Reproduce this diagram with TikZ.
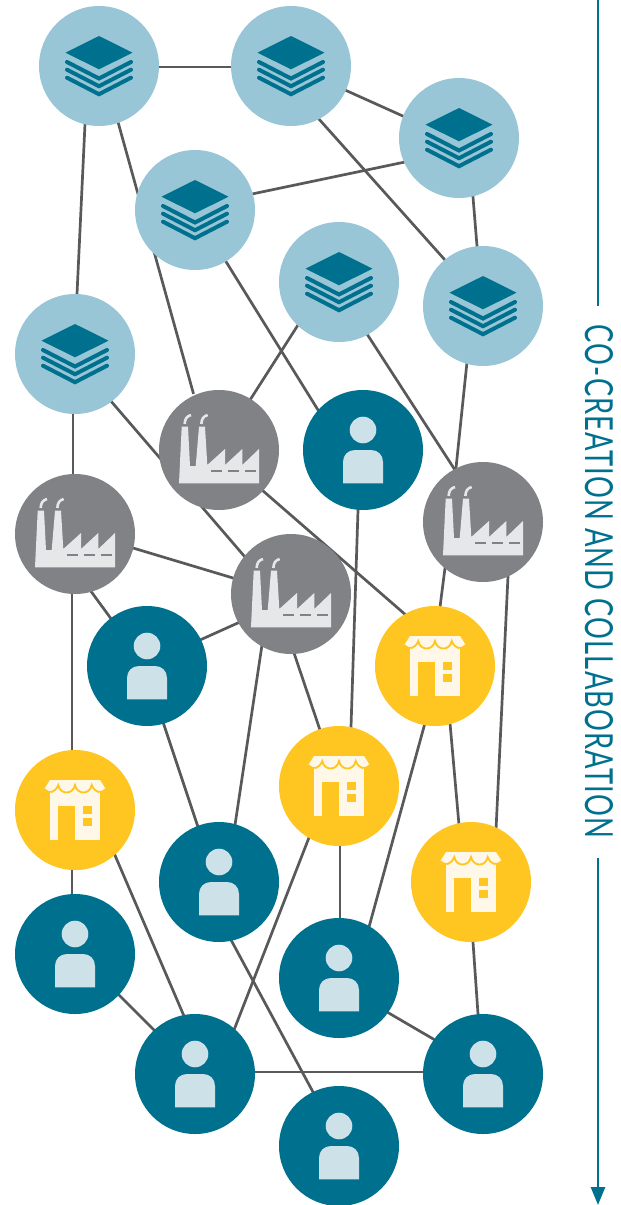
\documentclass[tikz,border=0pt]{standalone}
\usepackage{fontspec}
\setmainfont{Lato}[LetterSpace=4]
\usetikzlibrary{calc,backgrounds,arrows.meta}
\definecolor{teal}{HTML}{00708F}
\definecolor{lblue}{HTML}{98C6D7}
\definecolor{gry}{HTML}{808285}
\definecolor{fact}{HTML}{E6E7E8}
\definecolor{yel}{HTML}{FFC520}
\definecolor{cream}{HTML}{FFF8E8}
\definecolor{pers}{HTML}{CDE1E8}
\definecolor{conncol}{HTML}{58595B}
\tikzset{
  disc/.style={circle,minimum size=120pt,inner sep=0pt,outer sep=0pt,draw=none},
  ldisc/.style={disc,fill=lblue},
  gdisc/.style={disc,fill=gry},
  ydisc/.style={disc,fill=yel},
  tdisc/.style={disc,fill=teal},
  conn/.style={draw=conncol,line width=2.7pt,shorten >=-2pt,shorten <=-2pt},
  axisline/.style={draw=teal,line width=2.7pt},
  stack/.pic={
    \fill[teal] (0,-30) -- (33.5,-13.3) -- (0,3.3) -- (-33.5,-13.3) -- cycle;
    \foreach \y in {-4,3.7,11.7}
      \draw[teal,line width=4pt,line cap=round] (-32,\y) -- (0,\y+16.5) -- (32,\y);
  },
  factory/.pic={
    \fill[fact] (-40,33.3) -- (-37.3,-23.3) -- (-31,-23.3) -- (-29,16) -- (-23.3,16) -- (-20,-23.3)
      -- (-14,-23.3) -- (-11.7,15) -- (6,-1) -- (6,15) -- (23.3,-1) -- (23.3,15) -- (40,-1) -- (40,33.3) -- cycle;
    \foreach \x in {0,16.7}
      \draw[fact,line width=2.6pt] (-34.3+\x,-26) .. controls (-34.3+\x,-31) and (-32+\x,-34) .. (-28+\x,-35);
    \fill[gry] (-8.3,19.6) rectangle (2.7,22);
    \fill[gry] (9,19.6) rectangle (20,22);
    \fill[gry] (25.7,19.6) rectangle (36.7,22);
  },
  shop/.pic={
    \fill[cream] (-25,-24) rectangle (25,30);
    \fill[yel] (-16.7,-4) rectangle (0,30);
    \fill[yel] (8.3,-4) rectangle (16.7,4);
    \fill[yel] (8.3,7.7) rectangle (16.7,15.7);
    \fill[cream] (-25,-30) -- (25,-30) -- (30.7,-21) .. controls (26,-16) and (20,-17) .. (16.7,-25)
      .. controls (15,-15) and (2,-15) .. (0,-25) .. controls (-2,-15) and (-15,-15) .. (-16.7,-25)
      .. controls (-20,-17) and (-26,-16) .. (-30.7,-21) -- cycle;
    \draw[yel,line width=1.8pt] (30.7,-21) .. controls (26,-16) and (20,-17) .. (16.7,-25)
      .. controls (15,-15) and (2,-15) .. (0,-25) .. controls (-2,-15) and (-15,-15) .. (-16.7,-25)
      .. controls (-20,-17) and (-26,-16) .. (-30.7,-21);
  },
  person/.pic={
    \fill[pers] (0,-20) circle[radius=13.3];
    \fill[pers] (-20,33.3) -- (-20,12) .. controls (-20,5) and (-15,0) .. (-8,0) -- (8,0)
      .. controls (15,0) and (20,5) .. (20,12) -- (20,33.3) -- cycle;
  }
}
\newcommand{\conx}[4]{\draw[conn] ($(#1)+(#2)$) -- ($(#3)+(#4)$);}
\begin{document}
\begin{tikzpicture}[x=1pt,y=-1pt]
\useasboundingbox (0,0) rectangle (621,1205);
% discs
\foreach \n/\x/\y in {L1/99/66,L2/291/66,L3/459/138,L4/195/210,L5/339/282,L6/483/306,L7/75/354}
  {\node[ldisc] (\n) at (\x,\y) {}; \pic at (\n) {stack};}
\foreach \n/\x/\y in {F1/219/450,F2/75/534,F3/483/522,F4/291/594}
  {\node[gdisc] (\n) at (\x,\y) {}; \pic at (\n) {factory};}
\foreach \n/\x/\y in {S1/435/666,S2/339/786,S3/75/810,S4/471/882}
  {\node[ydisc] (\n) at (\x,\y) {}; \pic at (\n) {shop};}
\foreach \n/\x/\y in {P1/363/450,P2/147/666,P3/219/882,P4/75/954,P5/339/978,P6/195/1074,P7/483/1074,P8/339/1146}
  {\node[tdisc] (\n) at (\x,\y) {}; \pic at (\n) {person};}
% connectors
\begin{scope}[on background layer]
\conx{L1}{60,1}{L2}{-60,1}
\conx{L2}{54,24}{L3}{-54,-21}
\conx{L1}{-14,58}{L7}{2,-60}
\conx{L1}{19,56}{F1}{-26,-58}
\conx{L2}{27,52}{L6}{-38,-46}
\conx{L3}{-54,24}{L4}{57,-16}
\conx{L3}{14,59}{L6}{-6,-60}
\conx{L4}{30,50}{P1}{-45,-40}
\conx{L5}{-41,43}{F1}{31,-50}
\conx{L5}{28,52}{F3}{-28,-52}
\conx{L6}{-16,56}{F3}{-27,-54}
\conx{F3}{-38,46}{S1}{5,-59}
\conx{L7}{-2,60}{F2}{-2,-60}
\conx{L7}{35,46}{F4}{-46,-37}
\conx{F1}{43,40}{S1}{-28,-50}
\conx{F2}{58,14}{F4}{-58,-16}
\conx{F2}{15,56}{P2}{-35,-46}
\conx{F2}{-3,60}{S3}{-3,-60}
\conx{F4}{-51,28}{P2}{53,-26}
\conx{F4}{-29,51}{P3}{16,-57}
\conx{F4}{3,59}{S2}{-19,-56}
\conx{P1}{-5,60}{S2}{12,-59}
\conx{F3}{25,54}{S4}{25,-52}
\conx{S1}{15,57}{S4}{-12,-57}
\conx{S1}{-10,57}{P5}{30,-51}
\conx{S2}{1,60}{P5}{1,-60}
\conx{S2}{-29,49}{P6}{39,-44}
\conx{S3}{-3,60}{P4}{-3,-60}
\conx{S3}{39,43}{P6}{-11,-58}
\conx{P2}{16,56}{P3}{-21,-55}
\conx{P3}{11,56}{P8}{-26,-54}
\conx{P4}{43,40}{P6}{-40,-43}
\conx{P5}{48,34}{P7}{-48,-34}
\conx{S4}{2,60}{P7}{-5,-60}
\conx{P6}{60,-2}{P7}{-60,-2}
\end{scope}
% axis
\node[inner sep=0pt,text=teal,rotate=-90] (axislabel) at (599,581.5)
  {\resizebox{513pt}{28pt}{CO-CREATION AND COLLABORATION}};
\coordinate (a0) at (598,0);
\coordinate (a1) at (598,306);
\coordinate (a2) at (598,858);
\coordinate (a3) at (598,1205);
\draw[axisline] (a0) -- (a1);
\draw[axisline,-{Triangle[length=18pt,width=14pt]}] (a2) -- (a3);
\end{tikzpicture}
\end{document}
